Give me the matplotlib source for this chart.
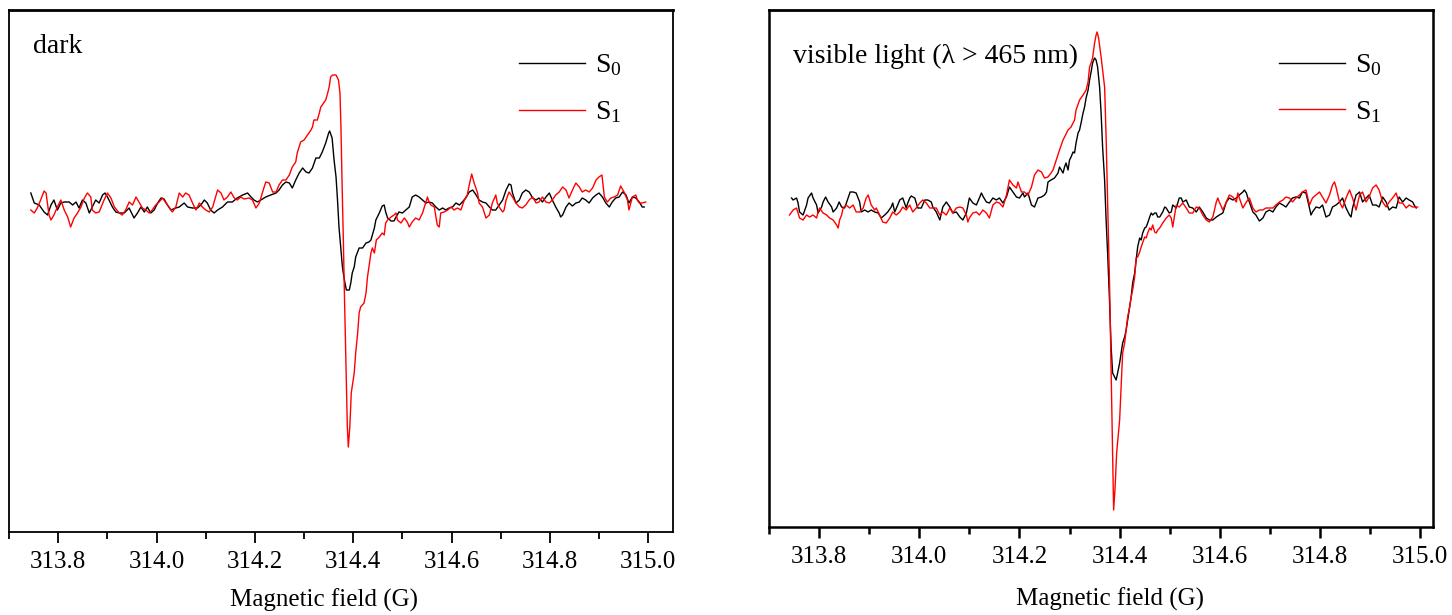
import numpy as np
import matplotlib
matplotlib.use("Agg")
import matplotlib.pyplot as plt
from matplotlib.ticker import MultipleLocator

plt.rcParams['font.family'] = ['Liberation Serif', 'DejaVu Serif']
plt.rcParams['mathtext.fontset'] = 'custom'
plt.rcParams['mathtext.rm'] = 'Liberation Serif'
plt.rcParams['mathtext.it'] = 'Liberation Serif:italic'

# field (G), signal (a.u.)
dark_s0 = np.array([
    [313.744, 7], [313.751, -3], [313.761, -5], [313.771, -12], [313.778, -15], [313.785, -5],
    [313.791, 0], [313.798, -10], [313.805, -3], [313.812, -2], [313.822, -2], [313.829, -5],
    [313.836, -2], [313.842, -8], [313.849, 0], [313.856, -3], [313.863, -13], [313.869, -7],
    [313.876, 0], [313.883, -3], [313.890, 5], [313.895, 7], [313.900, 3], [313.910, -7],
    [313.917, -12], [313.924, -13], [313.934, -13], [313.944, -8], [313.954, -18], [313.961, -13],
    [313.968, -7], [313.975, -12], [313.981, -7], [313.988, -13], [313.995, -10], [314.002, -3],
    [314.009, 2], [314.015, 1], [314.022, -5], [314.029, -10], [314.039, -8], [314.046, -7],
    [314.056, -3], [314.063, -7], [314.073, -8], [314.083, -8], [314.090, -5], [314.097, 0],
    [314.103, -3], [314.110, -10], [314.117, -13], [314.124, -10], [314.134, -7], [314.144, -2],
    [314.154, -2], [314.164, 2], [314.175, 5], [314.185, 7], [314.192, 3], [314.198, 0],
    [314.205, -2], [314.212, 0], [314.222, 3], [314.232, 5], [314.243, 7], [314.249, 10],
    [314.256, 15], [314.263, 18], [314.270, 17], [314.276, 12], [314.283, 20], [314.290, 27],
    [314.297, 32], [314.304, 28], [314.310, 27], [314.317, 32], [314.324, 42], [314.331, 42],
    [314.337, 48], [314.344, 57], [314.350, 67], [314.352, 69], [314.357, 62], [314.361, 40],
    [314.365, 23], [314.368, 0], [314.371, -27], [314.375, -50], [314.378, -67], [314.382, -80],
    [314.386, -90], [314.392, -90], [314.395, -83], [314.398, -73], [314.402, -67], [314.405, -57],
    [314.409, -52], [314.412, -48], [314.419, -48], [314.426, -43], [314.432, -42], [314.436, -40],
    [314.443, -28], [314.446, -20], [314.453, -13], [314.459, -6], [314.463, -5], [314.466, -12],
    [314.470, -18], [314.477, -21], [314.483, -21], [314.487, -17], [314.493, -12], [314.500, -13],
    [314.507, -10], [314.514, -7], [314.520, 3], [314.527, 5], [314.534, 3], [314.541, 0],
    [314.548, -3], [314.554, -2], [314.561, -3], [314.568, -7], [314.575, -10], [314.582, -8],
    [314.588, -10], [314.595, -8], [314.602, -7], [314.609, -3], [314.616, -5], [314.622, -2],
    [314.629, 2], [314.636, 8], [314.643, 10], [314.650, 5], [314.656, 0], [314.663, -2],
    [314.670, -3], [314.677, -7], [314.683, -10], [314.690, -10], [314.697, -5], [314.704, 0],
    [314.711, 10], [314.717, 16], [314.721, 15], [314.724, 7], [314.731, -3], [314.738, 0],
    [314.744, 7], [314.751, 10], [314.758, 8], [314.765, 2], [314.772, 0], [314.778, 2],
    [314.785, -2], [314.792, 3], [314.799, 7], [314.805, 0], [314.812, -7], [314.819, -13],
    [314.822, -17], [314.826, -15], [314.833, -7], [314.839, -3], [314.846, -6], [314.853, -3],
    [314.860, -2], [314.866, 2], [314.873, 0], [314.880, -3], [314.887, 2], [314.894, 5],
    [314.900, 7], [314.907, 3], [314.914, -3], [314.921, -7], [314.927, -2], [314.934, 2],
    [314.941, 3], [314.948, 8], [314.955, 5], [314.961, -3], [314.968, 3], [314.975, 2],
    [314.982, -2], [314.988, -7], [314.992, -7],
])

dark_s1 = np.array([
    [313.744, -10], [313.751, -13], [313.757, -8], [313.764, 0], [313.771, 9], [313.775, 7],
    [313.781, -15], [313.785, -20], [313.791, -15], [313.798, -7], [313.805, 0], [313.812, -10],
    [313.819, -17], [313.825, -27], [313.832, -18], [313.839, -13], [313.846, -7], [313.853, 2],
    [313.859, 7], [313.866, 3], [313.869, -10], [313.876, -13], [313.883, -12], [313.893, 0],
    [313.900, 7], [313.907, 2], [313.914, -7], [313.924, -13], [313.930, -15], [313.937, -10],
    [313.944, -2], [313.951, -5], [313.958, 3], [313.964, -2], [313.971, -8], [313.978, -10],
    [313.985, -13], [313.991, -10], [313.998, -5], [314.005, -2], [314.012, 2], [314.019, -3],
    [314.025, -7], [314.032, -12], [314.039, -7], [314.046, 7], [314.053, 3], [314.059, 7],
    [314.066, 5], [314.073, -3], [314.080, -10], [314.087, -3], [314.093, -7], [314.100, -10],
    [314.107, -12], [314.114, -7], [314.124, 10], [314.131, 7], [314.137, 0], [314.144, 3],
    [314.151, 8], [314.158, 2], [314.164, 0], [314.171, 3], [314.178, 1], [314.188, 2],
    [314.195, 0], [314.202, -8], [314.209, -3], [314.215, 7], [314.222, 18], [314.229, 17],
    [314.236, 8], [314.243, 8], [314.249, 15], [314.256, 20], [314.263, 20], [314.270, 25],
    [314.276, 33], [314.283, 38], [314.286, 47], [314.293, 58], [314.300, 60], [314.307, 65],
    [314.314, 70], [314.317, 73], [314.320, 80], [314.327, 80], [314.331, 87], [314.334, 93],
    [314.337, 95], [314.341, 98], [314.344, 100], [314.348, 107], [314.351, 113], [314.354, 123],
    [314.358, 125], [314.365, 125], [314.370, 120], [314.373, 107], [314.375, 73], [314.377, 23],
    [314.380, -43], [314.382, -93], [314.385, -160], [314.388, -227], [314.390, -247], [314.393, -227],
    [314.396, -193], [314.402, -173], [314.405, -153], [314.409, -133], [314.412, -113], [314.415, -107],
    [314.422, -103], [314.426, -93], [314.429, -77], [314.432, -67], [314.436, -53], [314.439, -48],
    [314.443, -53], [314.447, -40], [314.453, -37], [314.459, -33], [314.463, -35], [314.466, -23],
    [314.470, -20], [314.477, -17], [314.483, -15], [314.487, -13], [314.490, -20], [314.497, -23],
    [314.504, -18], [314.510, -22], [314.514, -27], [314.520, -22], [314.527, -18], [314.534, -20],
    [314.541, -13], [314.548, -2], [314.551, 3], [314.554, -2], [314.558, -5], [314.565, -7],
    [314.571, -25], [314.575, -27], [314.578, -13], [314.585, -12], [314.592, -10], [314.599, -7],
    [314.605, -10], [314.612, -8], [314.619, -10], [314.626, 0], [314.632, 5], [314.636, 15],
    [314.641, 26], [314.646, 17], [314.653, 7], [314.656, -3], [314.663, -7], [314.670, -18],
    [314.677, -15], [314.683, -3], [314.690, 5], [314.693, -3], [314.697, -7], [314.704, -12],
    [314.707, -10], [314.711, 0], [314.717, 8], [314.724, 3], [314.731, -3], [314.738, -7],
    [314.744, -8], [314.751, -5], [314.758, 0], [314.765, 3], [314.772, -3], [314.778, -2],
    [314.785, 3], [314.792, -2], [314.799, -3], [314.805, 0], [314.812, 5], [314.819, 8],
    [314.826, 13], [314.833, 10], [314.839, 2], [314.846, 10], [314.853, 17], [314.860, 13],
    [314.866, 8], [314.873, 10], [314.880, 8], [314.887, 12], [314.894, 20], [314.900, 23],
    [314.906, 25], [314.911, 3], [314.917, -2], [314.924, 2], [314.931, 3], [314.938, 5],
    [314.944, 14], [314.951, 8], [314.958, 0], [314.961, -10], [314.968, 3], [314.975, 5],
    [314.978, 0], [314.982, -3], [314.988, -3], [314.995, -2],
])

light_s0 = np.array([
    [313.745, 12], [313.748, 10], [313.755, 12], [313.758, 7], [313.761, -2], [313.768, -5],
    [313.775, 5], [313.778, 12], [313.785, 17], [313.788, 12], [313.795, 5], [313.798, -3],
    [313.805, 3], [313.808, 8], [313.813, 13], [313.818, 8], [313.825, 3], [313.828, -2],
    [313.835, 2], [313.840, 8], [313.845, 3], [313.851, 2], [313.858, 12], [313.862, 18],
    [313.868, 18], [313.874, 17], [313.881, 8], [313.884, -2], [313.891, 0], [313.898, -2],
    [313.904, 0], [313.911, -2], [313.918, -3], [313.924, -8], [313.931, -5], [313.937, -2],
    [313.944, 3], [313.947, 7], [313.951, -2], [313.957, 5], [313.961, 10], [313.967, 12],
    [313.974, 2], [313.977, 7], [313.981, 12], [313.984, 14], [313.991, 12], [313.997, 2],
    [314.004, 2], [314.011, 10], [314.017, 10], [314.024, 8], [314.027, 3], [314.034, -2],
    [314.041, -10], [314.047, 3], [314.054, 8], [314.061, 3], [314.067, -3], [314.074, -2],
    [314.081, -7], [314.087, -10], [314.094, -3], [314.100, 12], [314.107, 7], [314.114, 5],
    [314.120, 12], [314.124, 17], [314.128, 13], [314.134, 8], [314.140, 7], [314.147, 12],
    [314.154, 10], [314.160, 12], [314.167, 7], [314.174, 13], [314.180, 23], [314.187, 18],
    [314.194, 13], [314.200, 12], [314.207, 17], [314.210, 13], [314.217, 17], [314.224, 5],
    [314.230, 3], [314.237, 12], [314.244, 13], [314.250, 15], [314.254, 18], [314.257, 28],
    [314.263, 30], [314.270, 32], [314.277, 37], [314.280, 43], [314.287, 37], [314.290, 43],
    [314.293, 47], [314.297, 40], [314.300, 50], [314.303, 53], [314.307, 58], [314.310, 57],
    [314.313, 67], [314.317, 77], [314.320, 80], [314.323, 87], [314.327, 97], [314.330, 103],
    [314.333, 112], [314.337, 120], [314.340, 130], [314.343, 138], [314.346, 147], [314.350, 152],
    [314.353, 150], [314.356, 143], [314.360, 123], [314.363, 97], [314.366, 63], [314.370, 30],
    [314.373, -10], [314.376, -43], [314.380, -93], [314.383, -137], [314.386, -163], [314.390, -167],
    [314.393, -170], [314.396, -163], [314.400, -153], [314.403, -143], [314.406, -133], [314.410, -127],
    [314.413, -120], [314.416, -110], [314.420, -97], [314.423, -87], [314.426, -73], [314.430, -63],
    [314.433, -50], [314.436, -37], [314.440, -28], [314.443, -30], [314.446, -23], [314.450, -18],
    [314.453, -17], [314.456, -13], [314.460, -7], [314.463, -3], [314.466, -5], [314.470, -3],
    [314.473, -3], [314.476, -7], [314.480, -7], [314.486, -2], [314.490, 3], [314.493, 2],
    [314.499, -3], [314.503, -2], [314.506, 5], [314.513, 2], [314.519, 12], [314.523, 12],
    [314.526, 8], [314.533, 10], [314.539, 3], [314.546, 2], [314.553, -2], [314.559, 3],
    [314.566, -2], [314.573, -8], [314.579, -10], [314.586, -10], [314.593, -7], [314.599, -5],
    [314.606, -3], [314.613, 8], [314.619, 12], [314.626, 10], [314.633, 12], [314.639, 15],
    [314.646, 18], [314.649, 20], [314.653, 17], [314.656, 12], [314.659, 8], [314.666, -2],
    [314.672, -5], [314.679, -11], [314.686, -8], [314.692, -2], [314.699, 0], [314.706, -2],
    [314.712, 3], [314.719, 7], [314.726, 5], [314.732, 3], [314.739, 8], [314.745, 12],
    [314.752, 13], [314.759, 12], [314.765, 18], [314.772, 17], [314.779, 2], [314.782, -5],
    [314.785, -2], [314.792, 3], [314.799, 2], [314.805, 5], [314.812, -7], [314.819, -5],
    [314.825, 3], [314.832, 5], [314.839, 8], [314.845, 12], [314.852, 2], [314.859, -5],
    [314.862, -7], [314.865, 2], [314.872, 15], [314.879, 18], [314.885, 8], [314.892, 12],
    [314.898, 15], [314.905, 5], [314.912, 5], [314.918, 3], [314.925, 13], [314.932, 8],
    [314.938, 0], [314.945, 3], [314.952, 2], [314.958, 13], [314.965, 8], [314.972, 12],
    [314.978, 10], [314.985, 8], [314.988, 5], [314.992, 2],
])

light_s1 = np.array([
    [313.741, -5], [313.748, 0], [313.755, 2], [313.761, -8], [313.768, -10], [313.775, -5],
    [313.781, -7], [313.788, -5], [313.795, -8], [313.798, -2], [313.801, 2], [313.808, -3],
    [313.815, -5], [313.821, -8], [313.828, -10], [313.835, -15], [313.838, -18], [313.841, -10],
    [313.845, -5], [313.848, 2], [313.854, 5], [313.861, 2], [313.868, 5], [313.874, -2],
    [313.881, -2], [313.888, 2], [313.894, 12], [313.898, 15], [313.904, 5], [313.911, 0],
    [313.914, 2], [313.921, -5], [313.927, -12], [313.934, -13], [313.941, -8], [313.947, -2],
    [313.954, -5], [313.961, -2], [313.967, 3], [313.974, 0], [313.981, 5], [313.987, -2],
    [313.994, 2], [314.001, 7], [314.007, 10], [314.014, 7], [314.021, 2], [314.027, 2],
    [314.034, 2], [314.041, -5], [314.047, -2], [314.054, -5], [314.061, 2], [314.067, -3],
    [314.074, 2], [314.081, 3], [314.087, 2], [314.094, -5], [314.097, -12], [314.100, -8],
    [314.107, -3], [314.114, -2], [314.120, -5], [314.127, 0], [314.134, -3], [314.140, -8],
    [314.147, 5], [314.154, 8], [314.160, 7], [314.167, 3], [314.174, 15], [314.180, 30],
    [314.187, 25], [314.194, 22], [314.197, 28], [314.204, 18], [314.210, 18], [314.217, 15],
    [314.224, 23], [314.230, 35], [314.237, 40], [314.244, 38], [314.250, 32], [314.257, 33],
    [314.263, 37], [314.267, 40], [314.280, 60], [314.287, 70], [314.290, 73], [314.297, 80],
    [314.303, 83], [314.310, 90], [314.313, 100], [314.320, 110], [314.327, 115], [314.333, 120],
    [314.337, 128], [314.340, 143], [314.343, 147], [314.346, 152], [314.350, 167], [314.353, 175],
    [314.355, 178], [314.358, 172], [314.363, 153], [314.366, 140], [314.370, 123], [314.373, 73],
    [314.376, 7], [314.380, -77], [314.383, -160], [314.386, -243], [314.388, -300], [314.391, -277],
    [314.394, -243], [314.400, -210], [314.403, -177], [314.406, -143], [314.410, -133], [314.413, -120],
    [314.416, -107], [314.420, -97], [314.423, -87], [314.426, -80], [314.430, -67], [314.433, -48],
    [314.436, -47], [314.440, -42], [314.443, -37], [314.450, -27], [314.453, -28], [314.456, -23],
    [314.460, -18], [314.463, -20], [314.466, -15], [314.470, -22], [314.473, -23], [314.476, -20],
    [314.480, -18], [314.486, -13], [314.493, -8], [314.499, -5], [314.503, -8], [314.506, -17],
    [314.513, 5], [314.519, 3], [314.526, 7], [314.533, 2], [314.539, -3], [314.546, -3],
    [314.553, 3], [314.559, 2], [314.566, -5], [314.573, -10], [314.579, -12], [314.586, -7],
    [314.593, 8], [314.596, 12], [314.599, 8], [314.606, 0], [314.613, 8], [314.619, 15],
    [314.626, 13], [314.633, 8], [314.636, 17], [314.639, 12], [314.646, 2], [314.653, 8],
    [314.659, 12], [314.666, 2], [314.672, -2], [314.679, 0], [314.686, 0], [314.692, 2],
    [314.699, 2], [314.706, 2], [314.712, 5], [314.719, 8], [314.726, 10], [314.732, 13],
    [314.739, 12], [314.745, 8], [314.752, 12], [314.759, 15], [314.765, 18], [314.772, 20],
    [314.779, 5], [314.785, 12], [314.792, 15], [314.799, 18], [314.805, 13], [314.812, 7],
    [314.819, 15], [314.825, 25], [314.829, 28], [314.832, 23], [314.839, 8], [314.845, 2],
    [314.852, 12], [314.859, 20], [314.865, 12], [314.872, 0], [314.879, 15], [314.885, 18],
    [314.892, 8], [314.898, 13], [314.905, 22], [314.912, 25], [314.918, 20], [314.925, 8],
    [314.932, 3], [314.938, 8], [314.945, 12], [314.952, 17], [314.958, 7], [314.965, 7],
    [314.972, 2], [314.978, 5], [314.985, 3], [314.995, 3],
])

panels = [
    dict(s0=dark_s0, s1=dark_s1, note="dark", note_y=0.93, xlim=(313.7, 315.05), ylim=(-332, 190),
         rect=[9.2 / 1452, 83 / 615, 663.5 / 1452, 522 / 615], label_x=0.474, label_y=-0.108,
         leg_anchor=(0.944, 0.945), spine_w=1.3),
    dict(s0=light_s0, s1=light_s1, note="visible light (\u03bb > 465 nm)", note_y=0.91,
         xlim=(313.7, 315.025), ylim=(-317, 200),
         rect=[769 / 1452, 88 / 615, 663.7 / 1452, 517 / 615], label_x=0.514, label_y=-0.118,
         leg_anchor=(0.944, 0.945), spine_w=1.8),
]

fig = plt.figure(figsize=(14.52, 6.15), dpi=100)

for p in panels:
    ax = fig.add_axes(p["rect"])
    ax.plot(p["s0"][:, 0], p["s0"][:, 1], color="black", lw=1.0, label="S$_0$")
    ax.plot(p["s1"][:, 0], p["s1"][:, 1], color="red", lw=1.0, label="S$_1$")
    ax.set_xlim(*p["xlim"])
    ax.set_ylim(*p["ylim"])
    ax.xaxis.set_major_locator(MultipleLocator(0.2))
    ax.xaxis.set_minor_locator(MultipleLocator(0.1))
    ax.xaxis.set_major_formatter(plt.FormatStrFormatter("%.1f"))
    ax.tick_params(axis="x", which="major", direction="out", length=8, width=p["spine_w"],
                   labelsize=18, pad=6)
    ax.tick_params(axis="x", which="minor", direction="out", length=5, width=p["spine_w"])
    ax.set_yticks([])
    for s in ax.spines.values():
        s.set_linewidth(p["spine_w"])
    ax.spines["top"].set_linewidth(2.0)
    ax.set_xlabel("Magnetic field (G)", fontsize=18)
    ax.xaxis.set_label_coords(p["label_x"], p["label_y"])
    ax.text(0.036, p["note_y"], p["note"], transform=ax.transAxes, fontsize=20,
            va="center", ha="left")
    ax.legend(loc="upper right", bbox_to_anchor=p["leg_anchor"], frameon=False, fontsize=20,
              handlelength=2.4, handletextpad=0.35, labelspacing=0.75, borderpad=0)

fig.savefig("out.png", dpi=100)
